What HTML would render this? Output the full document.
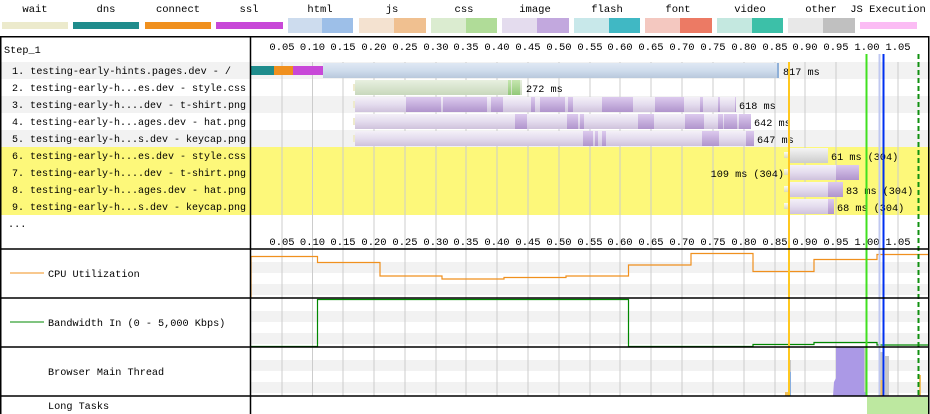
<!DOCTYPE html>
<html><head><meta charset="utf-8"><style>
html,body{margin:0;padding:0;background:#fff;}
svg{display:block;font-family:"Liberation Mono","DejaVu Sans Mono",monospace;}
</style></head><body>
<svg width="930" height="414" viewBox="0 0 930 414" xmlns="http://www.w3.org/2000/svg">
<defs>
<linearGradient id="gHtml" x1="0" y1="0" x2="0" y2="1"><stop offset="0" stop-color="#dfe8f4"/><stop offset="0.5" stop-color="#cfdcec"/><stop offset="1" stop-color="#b8c8dc"/></linearGradient>
<linearGradient id="gCss" x1="0" y1="0" x2="0" y2="1"><stop offset="0" stop-color="#e8f0e0"/><stop offset="1" stop-color="#c8d8bc"/></linearGradient>
<linearGradient id="gCssD" x1="0" y1="0" x2="0" y2="1"><stop offset="0" stop-color="#c6e6b0"/><stop offset="1" stop-color="#92c878"/></linearGradient>
<linearGradient id="gImg" x1="0" y1="0" x2="0" y2="1"><stop offset="0" stop-color="#f4f0f8"/><stop offset="0.5" stop-color="#e4dcee"/><stop offset="1" stop-color="#cfc2dc"/></linearGradient>
<linearGradient id="gImgD" x1="0" y1="0" x2="0" y2="1"><stop offset="0" stop-color="#dccaee"/><stop offset="1" stop-color="#b094cc"/></linearGradient>
<linearGradient id="gOth" x1="0" y1="0" x2="0" y2="1"><stop offset="0" stop-color="#f4f4f4"/><stop offset="1" stop-color="#cccccc"/></linearGradient>
<linearGradient id="gWait" x1="0" y1="0" x2="0" y2="1"><stop offset="0" stop-color="#fdfdf0"/><stop offset="1" stop-color="#dedcb8"/></linearGradient>
</defs>

<!-- legend -->
<g font-size="10.5" text-anchor="middle" fill="#000">
<text x="35" y="12">wait</text><text x="106" y="12">dns</text><text x="178" y="12">connect</text><text x="249" y="12">ssl</text>
<text x="320" y="12">html</text><text x="392" y="12">js</text><text x="464" y="12">css</text><text x="535" y="12">image</text>
<text x="607" y="12">flash</text><text x="678" y="12">font</text><text x="750" y="12">video</text><text x="821" y="12">other</text><text x="888" y="12">JS Execution</text>
</g>
<rect x="2" y="22" width="66" height="7" fill="#eceacc"/>
<rect x="73" y="22" width="66" height="7" fill="#1f8c8c"/>
<rect x="145" y="22" width="66" height="7" fill="#f0901e"/>
<rect x="216" y="22" width="67" height="7" fill="#c848d8"/>
<rect x="288" y="18" width="34" height="15" fill="#cddcee"/><rect x="322" y="18" width="31" height="15" fill="#9dbfe8"/>
<rect x="359" y="18" width="35" height="15" fill="#f4e2d0"/><rect x="394" y="18" width="32" height="15" fill="#f0c090"/>
<rect x="431" y="18" width="35" height="15" fill="#dbecd0"/><rect x="466" y="18" width="31" height="15" fill="#b0dc98"/>
<rect x="502" y="18" width="35" height="15" fill="#e4dcee"/><rect x="537" y="18" width="32" height="15" fill="#c2a8de"/>
<rect x="574" y="18" width="35" height="15" fill="#c8e8ea"/><rect x="609" y="18" width="31" height="15" fill="#40b8c4"/>
<rect x="645" y="18" width="35" height="15" fill="#f4c8c0"/><rect x="680" y="18" width="32" height="15" fill="#ec7a64"/>
<rect x="717" y="18" width="35" height="15" fill="#c4e8e0"/><rect x="752" y="18" width="31" height="15" fill="#3cc0a8"/>
<rect x="788" y="18" width="35" height="15" fill="#e8e8e8"/><rect x="823" y="18" width="32" height="15" fill="#c0c0c0"/>
<rect x="860" y="22" width="57" height="7" fill="#fbbcf4"/>

<!-- row backgrounds -->
<rect x="0" y="62" width="930" height="17" fill="#f2f2f2"/>
<rect x="0" y="96" width="930" height="17" fill="#f2f2f2"/>
<rect x="0" y="130" width="930" height="17" fill="#f2f2f2"/>
<rect x="0" y="147" width="930" height="68" fill="#fdf87a"/>
<!-- panel stripes -->
<g fill="#f2f2f2">
<rect x="251" y="262" width="678" height="11"/><rect x="251" y="284" width="678" height="11"/>
<rect x="251" y="311" width="678" height="11"/><rect x="251" y="333" width="678" height="11"/>
<rect x="251" y="360" width="678" height="11"/><rect x="251" y="382" width="678" height="11"/>
</g>

<!-- gridlines -->
<g stroke="#cccccc" stroke-width="1">
<line x1="282" y1="62" x2="282" y2="396"/><line x1="312.5" y1="62" x2="312.5" y2="396"/><line x1="343" y1="62" x2="343" y2="396"/>
<line x1="374" y1="62" x2="374" y2="396"/><line x1="405" y1="62" x2="405" y2="396"/><line x1="436" y1="62" x2="436" y2="396"/>
<line x1="466" y1="62" x2="466" y2="396"/><line x1="497" y1="62" x2="497" y2="396"/><line x1="528" y1="62" x2="528" y2="396"/>
<line x1="559" y1="62" x2="559" y2="396"/><line x1="590" y1="62" x2="590" y2="396"/><line x1="620" y1="62" x2="620" y2="396"/>
<line x1="651" y1="62" x2="651" y2="396"/><line x1="682" y1="62" x2="682" y2="396"/><line x1="713" y1="62" x2="713" y2="396"/>
<line x1="744" y1="62" x2="744" y2="396"/><line x1="775" y1="62" x2="775" y2="396"/><line x1="805" y1="62" x2="805" y2="396"/>
<line x1="836" y1="62" x2="836" y2="396"/><line x1="867" y1="62" x2="867" y2="396"/><line x1="898" y1="62" x2="898" y2="396"/>
</g>
<!-- axis labels -->
<g font-size="10.5" text-anchor="middle">
<g transform="translate(0,50)">
<text x="282">0.05</text><text x="312.5">0.10</text><text x="343">0.15</text><text x="374">0.20</text><text x="405">0.25</text><text x="436">0.30</text><text x="466">0.35</text><text x="497">0.40</text><text x="528">0.45</text><text x="559">0.50</text><text x="590">0.55</text><text x="620">0.60</text><text x="651">0.65</text><text x="682">0.70</text><text x="713">0.75</text><text x="744">0.80</text><text x="775">0.85</text><text x="805">0.90</text><text x="836">0.95</text><text x="867">1.00</text><text x="898">1.05</text>
</g>
<g transform="translate(0,245)">
<text x="282">0.05</text><text x="312.5">0.10</text><text x="343">0.15</text><text x="374">0.20</text><text x="405">0.25</text><text x="436">0.30</text><text x="466">0.35</text><text x="497">0.40</text><text x="528">0.45</text><text x="559">0.50</text><text x="590">0.55</text><text x="620">0.60</text><text x="651">0.65</text><text x="682">0.70</text><text x="713">0.75</text><text x="744">0.80</text><text x="775">0.85</text><text x="805">0.90</text><text x="836">0.95</text><text x="867">1.00</text><text x="898">1.05</text>
</g>
</g>

<!-- row labels -->
<g font-size="10.2" fill="#000">
<text x="4" y="53">Step_1</text>
<text x="12" y="74" textLength="219" lengthAdjust="spacingAndGlyphs">1. testing-early-hints.pages.dev - /</text>
<text x="12" y="91" textLength="234" lengthAdjust="spacingAndGlyphs">2. testing-early-h...es.dev - style.css</text>
<text x="12" y="108" textLength="234" lengthAdjust="spacingAndGlyphs">3. testing-early-h....dev - t-shirt.png</text>
<text x="12" y="125" textLength="234" lengthAdjust="spacingAndGlyphs">4. testing-early-h...ages.dev - hat.png</text>
<text x="12" y="142" textLength="234" lengthAdjust="spacingAndGlyphs">5. testing-early-h...s.dev - keycap.png</text>
<text x="12" y="159" textLength="234" lengthAdjust="spacingAndGlyphs">6. testing-early-h...es.dev - style.css</text>
<text x="12" y="176" textLength="234" lengthAdjust="spacingAndGlyphs">7. testing-early-h....dev - t-shirt.png</text>
<text x="12" y="193" textLength="234" lengthAdjust="spacingAndGlyphs">8. testing-early-h...ages.dev - hat.png</text>
<text x="12" y="210" textLength="234" lengthAdjust="spacingAndGlyphs">9. testing-early-h...s.dev - keycap.png</text>
<text x="8" y="227">...</text>
<text x="48" y="277">CPU Utilization</text>
<text x="48" y="326">Bandwidth In (0 - 5,000 Kbps)</text>
<text x="48" y="375">Browser Main Thread</text>
<text x="48" y="409">Long Tasks</text>
</g>
<line x1="10" y1="273" x2="44" y2="273" stroke="#f0901e"/>
<line x1="10" y1="322" x2="44" y2="322" stroke="#008800"/>

<!-- bars -->
<rect x="251" y="66" width="23" height="9" fill="#1f8c8c"/>
<rect x="274" y="66" width="19" height="9" fill="#f0901e"/>
<rect x="293" y="66" width="30" height="9" fill="#c848d8"/>
<rect x="323" y="63" width="456" height="15" fill="url(#gHtml)"/>
<rect x="777" y="63" width="2" height="15" fill="#8fb0d8"/>
<rect x="353" y="84" width="3" height="7" fill="#eeeacc"/>
<rect x="355" y="80" width="167" height="15" fill="url(#gCss)"/>
<rect x="508" y="80" width="3" height="15" fill="url(#gCssD)"/><rect x="512" y="80" width="8" height="15" fill="url(#gCssD)"/>
<rect x="353" y="101" width="3" height="7" fill="#eeeacc"/>
<rect x="355" y="97" width="381" height="15" fill="url(#gImg)"/>
<g fill="url(#gImgD)">
<rect x="406" y="97" width="35" height="15"/><rect x="443" y="97" width="44" height="15"/><rect x="491" y="97" width="12" height="15"/><rect x="531" y="97" width="4" height="15"/><rect x="540" y="97" width="25" height="15"/><rect x="568" y="97" width="5" height="15"/><rect x="602" y="97" width="31" height="15"/><rect x="655" y="97" width="29" height="15"/><rect x="700" y="97" width="3" height="15"/><rect x="718" y="97" width="2" height="15"/><rect x="735" y="97" width="1" height="15"/>
</g>
<rect x="353" y="118" width="3" height="7" fill="#eeeacc"/>
<rect x="355" y="114" width="396" height="15" fill="url(#gImg)"/>
<g fill="url(#gImgD)">
<rect x="515" y="114" width="12" height="15"/><rect x="567" y="114" width="11" height="15"/><rect x="580" y="114" width="4" height="15"/><rect x="638" y="114" width="16" height="15"/><rect x="685" y="114" width="19" height="15"/><rect x="718" y="114" width="5" height="15"/><rect x="724" y="114" width="13" height="15"/><rect x="739" y="114" width="12" height="15"/>
</g>
<rect x="353" y="135" width="3" height="7" fill="#eeeacc"/>
<rect x="355" y="131" width="399" height="15" fill="url(#gImg)"/>
<g fill="url(#gImgD)">
<rect x="583" y="131" width="10" height="15"/><rect x="595" y="131" width="3" height="15"/><rect x="602" y="131" width="4" height="15"/><rect x="702" y="131" width="17" height="15"/><rect x="746" y="131" width="8" height="15"/>
</g>
<rect x="784" y="152" width="8" height="6" fill="url(#gWait)"/>
<rect x="790" y="148" width="38" height="15" fill="url(#gOth)"/>
<rect x="784" y="169" width="8" height="6" fill="url(#gWait)"/>
<rect x="790" y="165" width="69" height="15" fill="url(#gImg)"/><rect x="836" y="165" width="23" height="15" fill="url(#gImgD)"/>
<rect x="784" y="186" width="8" height="6" fill="url(#gWait)"/>
<rect x="790" y="182" width="53" height="15" fill="url(#gImg)"/><rect x="828" y="182" width="15" height="15" fill="url(#gImgD)"/>
<rect x="784" y="203" width="8" height="6" fill="url(#gWait)"/>
<rect x="790" y="199" width="44" height="15" fill="url(#gImg)"/><rect x="828" y="199" width="6" height="15" fill="url(#gImgD)"/>

<g font-size="10.2">
<text x="783" y="75">817 ms</text>
<text x="526" y="92">272 ms</text>
<text x="739" y="109">618 ms</text>
<text x="754" y="126">642 ms</text>
<text x="757" y="143">647 ms</text>
<text x="831" y="160">61 ms (304)</text>
<text x="784" y="177" text-anchor="end">109 ms (304)</text>
<text x="846" y="194">83 ms (304)</text>
<text x="837" y="211">68 ms (304)</text>
</g>

<polyline fill="none" stroke="#f0901e" stroke-width="1.2" points="251,298 251,256.5 317.5,256.5 317.5,262.5 380,262.5 380,276 442,276 442,279 504,279 504,277.5 566,277.5 566,276 628.5,276 628.5,265 691,265 691,253.5 753,253.5 753,271.5 814,271.5 814,259.5 877,259.5 877,254.5 929,254.5"/>
<polyline fill="none" stroke="#008800" stroke-width="1.2" points="251,346.5 317.5,346.5 317.5,299.5 628.5,299.5 628.5,346.5 753,346.5 753,344.5 814,344.5 814,342.5 877,342.5 877,345 929,345"/>
<polygon fill="#ab99e6" points="833,396 834,382 836,378 836,347 864,347 865,375 866,396"/>
<rect x="864" y="347" width="2" height="45" fill="#c8c8c8"/>
<rect x="785" y="392" width="4" height="4" fill="#f0c060"/>
<rect x="789" y="360" width="2" height="36" fill="#c8c8c8"/>
<rect x="789" y="372" width="2" height="24" fill="#88aee0"/>
<rect x="879" y="352" width="4" height="44" fill="#c8c8c8"/>
<rect x="879" y="380" width="4" height="16" fill="#f0c060"/>
<rect x="885" y="356" width="4" height="40" fill="#c8c8c8"/>
<rect x="919" y="375" width="2" height="21" fill="#f0c060"/>
<rect x="867" y="397" width="61" height="17" fill="#bde8a0"/>

<line x1="789" y1="62" x2="789" y2="396" stroke="#ffc820" stroke-width="2"/>
<line x1="866.5" y1="54" x2="866.5" y2="396" stroke="#40e020" stroke-width="2"/>
<line x1="879.5" y1="54" x2="879.5" y2="396" stroke="#c0c8f0" stroke-width="2"/>
<line x1="883.5" y1="54" x2="883.5" y2="396" stroke="#0030f0" stroke-width="2"/>
<line x1="918.5" y1="54" x2="918.5" y2="396" stroke="#109010" stroke-width="2" stroke-dasharray="5,3"/>

<g stroke="#000" stroke-width="1.5" fill="none">
<rect x="0.75" y="36.75" width="928" height="378"/>
<line x1="250.5" y1="36" x2="250.5" y2="414"/>
<line x1="0" y1="249" x2="929" y2="249"/>
<line x1="0" y1="298" x2="929" y2="298"/>
<line x1="0" y1="347" x2="929" y2="347"/>
<line x1="0" y1="396" x2="929" y2="396"/>
</g>
</svg>
</body></html>
